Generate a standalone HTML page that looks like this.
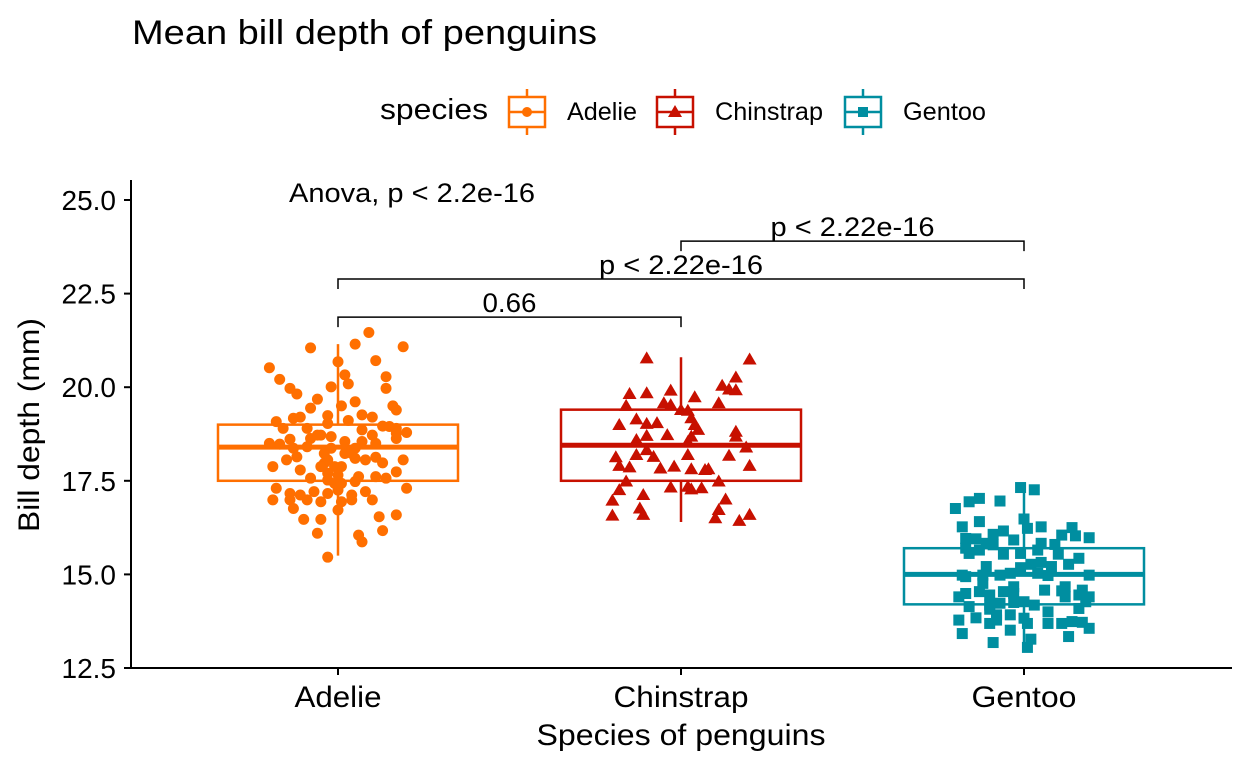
<!DOCTYPE html>
<html><head><meta charset="utf-8"><style>
body{margin:0;background:#fff;}
svg text{font-family:"Liberation Sans",sans-serif;}
</style></head><body>
<svg id="chart" width="1248" height="768" xmlns="http://www.w3.org/2000/svg">
<text x="132" y="44" font-size="34" textLength="465" lengthAdjust="spacingAndGlyphs">Mean bill depth of penguins</text>
<g id="legend">
<text x="380" y="119" font-size="29" textLength="108" lengthAdjust="spacingAndGlyphs">species</text>
</g>
<g id="plot"></g>
</svg>
<script>
const categories = ["Adelie","Chinstrap","Gentoo"];
const colors = ["#FF6F00","#C71000","#008EA0"];
const yTicks = [12.5,15.0,17.5,20.0,22.5,25.0];
const boxQ1 = [17.5,17.5,14.2];
const boxMedian = [18.4,18.45,15.0];
const boxQ3 = [19.0,19.4,15.7];
const whiskerLow = [15.5,16.4,13.1];
const whiskerHigh = [21.15,20.8,17.3];
const adelieJitter = [.09,-.08,.05,.19,.00,.11,-.20,.02,.14,-.17,-.14,.03,.14,-.02,-.12,-.06,.05,-.08,.16,.17,.01,-.18,-.13,-.11,-.03,.03,.07,.10,-.16,-.09,-.03,.13,.15,.17,.20,.07,.10,-.20,-.17,-.14,-.08,-.05,-.02,.02,.07,.11,.17,-.13,-.09,-.02,.02,.05,-.15,-.12,-.19,-.11,-.04,-.01,.01,.05,.08,.11,.13,.19,-.08,-.03,.00,.06,.11,.14,.17,-.18,.05,.20,-.14,-.11,-.07,-.03,.00,.04,.08,-.19,-.14,-.09,-.05,.01,.04,.10,-.13,.00,.12,.17,-.10,-.05,.13,-.06,.06,.07,-.03,.00,-.03,-.05,-.03,-.01,.01,-.04,-.06,.17,.04];
const adelieDepth = [21.46,21.05,21.15,21.08,20.68,20.71,20.52,20.33,20.28,20.21,19.97,20.09,19.97,20.01,19.82,19.68,19.61,19.44,19.50,19.39,19.50,19.08,19.17,19.20,19.24,19.11,19.26,19.20,18.90,18.90,19.03,18.96,18.95,18.90,18.79,18.86,18.72,18.50,18.48,18.61,18.63,18.72,18.68,18.55,18.55,18.50,18.63,18.37,18.41,18.37,18.23,18.37,18.06,18.14,17.88,17.79,17.97,17.88,17.88,18.10,18.06,18.13,17.98,18.06,17.57,17.70,17.65,17.61,17.61,17.57,17.74,17.30,17.48,17.30,17.16,17.12,17.21,17.16,17.25,17.12,17.21,16.99,16.99,16.99,16.94,16.94,16.99,16.99,16.76,16.72,16.54,16.59,16.47,16.47,16.17,16.10,16.05,15.87,15.46,17.39,18.06,17.88,17.52,17.43,17.43,18.23,18.72,18.77,18.23];
const chinJitter = [-.10,.20,.16,.12,.14,.16,-.03,-.15,-.10,.04,-.05,-.03,.11,-.16,.00,.02,.03,-.18,-.13,-.10,-.07,.04,.05,.16,.16,-.04,-.10,-.13,.03,.02,-.10,.19,-.19,-.13,-.08,.02,.14,-.18,-.15,-.06,-.02,.03,.07,.08,.20,-.16,.11,-.18,-.03,.02,.06,.03,-.11,-.20,.13,-.12,.11,-.20,-.11,.10,.17,.20];
const chinDepth = [20.77,20.74,20.26,20.04,19.94,19.92,19.91,19.82,19.84,19.73,19.57,19.52,19.57,19.50,19.39,19.37,19.17,18.99,19.14,19.02,19.04,18.99,18.86,18.81,18.68,18.72,18.70,18.59,18.68,18.54,18.32,18.39,18.13,18.19,18.14,18.19,18.17,17.90,17.86,17.83,17.88,17.81,17.79,17.81,17.90,17.48,17.48,17.25,17.32,17.34,17.30,17.27,17.12,16.97,17.00,16.76,16.72,16.57,16.59,16.50,16.43,16.59];
const gentooJitter = [-.01,.03,-.13,-.16,-.07,-.20,.00,-.13,-.18,.01,.05,.14,.11,.15,.19,-.17,-.14,-.09,-.06,-.03,-.11,-.09,.05,.09,-.17,-.16,-.13,-.06,-.01,.04,.10,.16,.13,.02,.05,.08,-.01,-.11,-.18,-.17,-.12,-.07,-.04,.04,.07,.19,-.12,-.03,.06,.11,.12,.17,.12,.16,.19,-.19,-.17,-.13,-.10,-.06,-.03,.18,-.16,-.10,-.07,-.03,.00,.03,.16,-.10,-.08,-.04,.00,.07,-.19,-.14,-.10,-.08,.01,.07,.11,.14,.17,.19,-.18,-.04,.13,.02,-.09,.01];
const gentooDepth = [17.32,17.26,17.03,16.94,16.96,16.76,16.48,16.41,16.27,16.23,16.27,16.25,16.05,16.03,15.98,15.96,15.95,16.07,16.16,15.92,15.83,15.79,15.83,15.80,15.70,15.56,15.65,15.54,15.56,15.65,15.54,15.43,15.27,15.27,15.32,15.21,15.18,15.21,14.98,14.94,14.98,14.98,15.03,15.03,14.97,14.98,14.76,14.67,14.58,14.56,14.67,14.58,14.40,14.45,14.40,14.40,14.49,14.54,14.45,14.54,14.49,14.27,14.14,14.18,14.23,14.25,14.27,14.18,14.09,14.07,13.92,13.92,13.83,14.00,13.78,13.84,13.69,13.78,13.69,13.69,13.69,13.74,13.72,13.56,13.42,13.51,13.34,13.27,13.18,13.05];
const brackets = [{a:0,b:1,y:21.87,label:"0.66"},{a:0,b:2,y:22.89,label:"p < 2.22e-16"},{a:1,b:2,y:23.9,label:"p < 2.22e-16"}];
const anovaLabel = "Anova, p < 2.2e-16";

const NS="http://www.w3.org/2000/svg";
const plot=document.getElementById('plot');
const legend=document.getElementById('legend');
const L=131,R=1232,T=180,B=668,band=343,x0=338;
function yS(v){return 200+(25-v)*37.44;}
function xS(i,j){return x0+i*band+(j||0)*band;}
function mk(tag,attrs,parent){const e=document.createElementNS(NS,tag);for(const k in attrs)e.setAttribute(k,attrs[k]);(parent||plot).appendChild(e);return e;}
function fitText(e,w){e.setAttribute('textLength',w);e.setAttribute('lengthAdjust','spacingAndGlyphs');}

let ax=mk('line',{x1:L,x2:L,y1:T,y2:B+1,stroke:'#000','stroke-width':2});


ax=mk('line',{x1:L-1,x2:R,y1:B,y2:B,stroke:'#000','stroke-width':2});


yTicks.forEach(t=>{
  const y=yS(t);
  const tk=mk('line',{x1:L-7,x2:L,y1:y,y2:y,stroke:'#000','stroke-width':2});
  
  
  const tx=mk('text',{x:L-15,y:y+10,'font-size':28,'text-anchor':'end'});
  tx.textContent=t.toFixed(1);
  
  
});
const xLabelW=[87,135,105];
categories.forEach((c,i)=>{
  const x=xS(i);
  const tk=mk('line',{x1:x,x2:x,y1:B,y2:B+7,stroke:'#000','stroke-width':2});
  
  
  const tx=mk('text',{x:x,y:707,'font-size':30,'text-anchor':'middle'});
  tx.textContent=c;
  fitText(tx,xLabelW[i]);
  
  
});
let t=mk('text',{x:681,y:745,'font-size':30,'text-anchor':'middle'});
t.textContent='Species of penguins';
fitText(t,289);


t=mk('text',{x:0,y:0,'font-size':30,'text-anchor':'middle',transform:'translate(39,425) rotate(-90)'});
t.textContent='Bill depth (mm)';
fitText(t,214);



categories.forEach((c,i)=>{
  const x=xS(i),hw=120,col=colors[i];
  const g=mk('g',{});
  
  
  mk('line',{x1:x,x2:x,y1:yS(whiskerHigh[i]),y2:yS(boxQ3[i]),stroke:col,'stroke-width':2.5},g);
  mk('line',{x1:x,x2:x,y1:yS(boxQ1[i]),y2:yS(whiskerLow[i]),stroke:col,'stroke-width':2.5},g);
  mk('rect',{x:x-hw,y:yS(boxQ3[i]),width:2*hw,height:yS(boxQ1[i])-yS(boxQ3[i]),fill:'none',stroke:col,'stroke-width':2.5},g);
  mk('line',{x1:x-hw,x2:x+hw,y1:yS(boxMedian[i]),y2:yS(boxMedian[i]),stroke:col,'stroke-width':5},g);
});
function pts(i,jit,vals,shape){
  const col=colors[i];
  vals.forEach((v,k)=>{
    const x=xS(i,jit[k]),y=yS(v);let e;
    if(shape===0)e=mk('circle',{cx:x,cy:y,r:5.5,fill:col});
    else if(shape===1)e=mk('polygon',{points:`${x},${y-7} ${x-7},${y+5} ${x+7},${y+5}`,fill:col});
    else e=mk('rect',{x:x-5.5,y:y-5.5,width:11,height:11,fill:col});
    
    
  });
}
pts(0,adelieJitter,adelieDepth,0);
pts(1,chinJitter,chinDepth,1);
pts(2,gentooJitter,gentooDepth,2);

const bracketLabelW=[54,164,164];
brackets.forEach((b,k)=>{
  const x1=xS(b.a),x2=xS(b.b),y=yS(b.y);
  const p=mk('path',{d:`M${x1},${y+10} V${y} H${x2} V${y+10}`,fill:'none',stroke:'#000','stroke-width':1.5});
  
  
  const tx=mk('text',{x:(x1+x2)/2,y:y-5,'font-size':27,'text-anchor':'middle'});
  tx.textContent=b.label;
  fitText(tx,bracketLabelW[k]);
  
  
});
t=mk('text',{x:289,y:202,'font-size':27});
t.textContent=anovaLabel;
fitText(t,246);



const lx=[509,657,845];
const legendW=[70,108,83];
categories.forEach((c,i)=>{
  const col=colors[i],x=lx[i],cx=x+18;
  const g=mk('g',{},legend);
  
  
  mk('line',{x1:cx,x2:cx,y1:89,y2:97,stroke:col,'stroke-width':2.5},g);
  mk('line',{x1:cx,x2:cx,y1:127,y2:135,stroke:col,'stroke-width':2.5},g);
  mk('rect',{x:x,y:97,width:36,height:30,fill:'none',stroke:col,'stroke-width':2.5},g);
  mk('line',{x1:x,x2:x+36,y1:112,y2:112,stroke:col,'stroke-width':2.5},g);
  if(i===0)mk('circle',{cx:cx,cy:112,r:5,fill:col},g);
  else if(i===1)mk('polygon',{points:`${cx},${105} ${cx-7},${117} ${cx+7},${117}`,fill:col},g);
  else mk('rect',{x:cx-5,y:107,width:10,height:10,fill:col},g);
  const tx=mk('text',{x:x+58,y:120,'font-size':25},g);
  tx.textContent=c;
  fitText(tx,legendW[i]);
});
</script>
</body></html>
